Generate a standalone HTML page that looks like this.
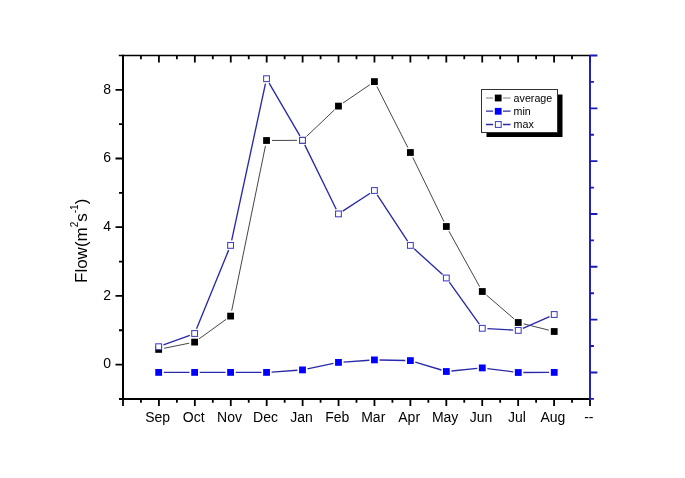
<!DOCTYPE html><html><head><meta charset="utf-8"><style>html,body{margin:0;padding:0;background:#fff;}svg{display:block;will-change:transform;}text{font-family:"Liberation Sans",sans-serif;}</style></head><body>
<svg width="685" height="478" viewBox="0 0 685 478">
<rect width="685" height="478" fill="#fff"/>
<path d="M119.00 398.90H123.0M115.50 364.60H123.0M119.00 330.25H123.0M115.50 295.90H123.0M119.00 261.55H123.0M115.50 227.20H123.0M119.00 192.85H123.0M115.50 158.50H123.0M119.00 124.15H123.0M115.50 89.80H123.0M123.00 398.9V405.90M140.96 398.9V402.70M158.92 398.9V405.90M176.88 398.9V402.70M194.85 398.9V405.90M212.81 398.9V402.70M230.77 398.9V405.90M248.73 398.9V402.70M266.69 398.9V405.90M284.65 398.9V402.70M302.62 398.9V405.90M320.58 398.9V402.70M338.54 398.9V405.90M356.50 398.9V402.70M374.46 398.9V405.90M392.42 398.9V402.70M410.38 398.9V405.90M428.35 398.9V402.70M446.31 398.9V405.90M464.27 398.9V402.70M482.23 398.9V405.90M500.19 398.9V402.70M518.15 398.9V405.90M536.12 398.9V402.70M554.08 398.9V405.90M572.04 398.9V402.70M590.00 398.9V405.90M123.00 55.5V62.50M140.96 55.5V59.30M158.92 55.5V62.50M176.88 55.5V59.30M194.85 55.5V62.50M212.81 55.5V59.30M230.77 55.5V62.50M248.73 55.5V59.30M266.69 55.5V62.50M284.65 55.5V59.30M302.62 55.5V62.50M320.58 55.5V59.30M338.54 55.5V62.50M356.50 55.5V59.30M374.46 55.5V62.50M392.42 55.5V59.30M410.38 55.5V62.50M428.35 55.5V59.30M446.31 55.5V62.50M464.27 55.5V59.30M482.23 55.5V62.50M500.19 55.5V59.30M518.15 55.5V62.50M536.12 55.5V59.30M554.08 55.5V62.50M572.04 55.5V59.30M590.00 55.5V62.50" stroke="#000" stroke-width="1.8" fill="none"/>
<path d="M123.0 54.75V399.79999999999995" stroke="#000" stroke-width="2" fill="none"/>
<path d="M119.0 398.9H590.0" stroke="#000" stroke-width="2" fill="none"/>
<path d="M118.8 55.5H590.0" stroke="#000" stroke-width="1.6" fill="none"/>
<path d="M590.0 54.7V399.7M590.0 55.50H597.40M590.0 81.92H593.90M590.0 108.33H597.40M590.0 134.75H593.90M590.0 161.16H597.40M590.0 187.58H593.90M590.0 213.99H597.40M590.0 240.41H593.90M590.0 266.82H597.40M590.0 293.24H593.90M590.0 319.65H597.40M590.0 346.07H593.90M590.0 372.48H597.40M590.0 398.90H593.90" stroke="#1a1ab8" stroke-width="1.9" fill="none"/>
<text x="111" y="368.30" font-size="14" text-anchor="end" fill="#000">0</text>
<text x="111" y="299.60" font-size="14" text-anchor="end" fill="#000">2</text>
<text x="111" y="230.90" font-size="14" text-anchor="end" fill="#000">4</text>
<text x="111" y="162.20" font-size="14" text-anchor="end" fill="#000">6</text>
<text x="111" y="93.50" font-size="14" text-anchor="end" fill="#000">8</text>
<text x="157.72" y="421.7" font-size="14" text-anchor="middle" fill="#000">Sep</text>
<text x="193.65" y="421.7" font-size="14" text-anchor="middle" fill="#000">Oct</text>
<text x="229.57" y="421.7" font-size="14" text-anchor="middle" fill="#000">Nov</text>
<text x="265.49" y="421.7" font-size="14" text-anchor="middle" fill="#000">Dec</text>
<text x="301.42" y="421.7" font-size="14" text-anchor="middle" fill="#000">Jan</text>
<text x="337.34" y="421.7" font-size="14" text-anchor="middle" fill="#000">Feb</text>
<text x="373.26" y="421.7" font-size="14" text-anchor="middle" fill="#000">Mar</text>
<text x="409.18" y="421.7" font-size="14" text-anchor="middle" fill="#000">Apr</text>
<text x="445.11" y="421.7" font-size="14" text-anchor="middle" fill="#000">May</text>
<text x="481.03" y="421.7" font-size="14" text-anchor="middle" fill="#000">Jun</text>
<text x="516.95" y="421.7" font-size="14" text-anchor="middle" fill="#000">Jul</text>
<text x="552.88" y="421.7" font-size="14" text-anchor="middle" fill="#000">Aug</text>
<text x="588.80" y="421.7" font-size="14" text-anchor="middle" fill="#000">--</text>
<text transform="translate(86.6,283) rotate(-90)" font-size="17" fill="#000">Flow(m<tspan font-size="10" dy="-8.2">2</tspan><tspan dy="8.2">s</tspan><tspan font-size="10" dy="-8.2">-1</tspan><tspan dy="8.2">)</tspan></text>
<path d="M164.05 348.31L189.23 343.19M199.08 338.88L226.12 319.32M231.68 310.71L265.44 145.89M272.04 140.47L297.00 140.33M306.49 136.51L334.47 109.89M343.01 103.00L369.87 84.70M376.91 86.51L407.89 147.59M412.78 157.45L443.94 221.55M449.00 231.31L479.64 286.69M486.47 295.09L514.09 318.91M523.60 323.84L548.88 330.16" stroke="#3c3c3c" stroke-width="0.95" fill="none"/>
<rect x="155.26" y="346.00" width="6.8" height="6.8" fill="#000"/><rect x="191.22" y="338.70" width="6.8" height="6.8" fill="#000"/><rect x="227.18" y="312.70" width="6.8" height="6.8" fill="#000"/><rect x="263.14" y="137.10" width="6.8" height="6.8" fill="#000"/><rect x="299.10" y="136.90" width="6.8" height="6.8" fill="#000"/><rect x="335.06" y="102.70" width="6.8" height="6.8" fill="#000"/><rect x="371.02" y="78.20" width="6.8" height="6.8" fill="#000"/><rect x="406.98" y="149.10" width="6.8" height="6.8" fill="#000"/><rect x="442.94" y="223.10" width="6.8" height="6.8" fill="#000"/><rect x="478.90" y="288.10" width="6.8" height="6.8" fill="#000"/><rect x="514.86" y="319.10" width="6.8" height="6.8" fill="#000"/><rect x="550.82" y="328.10" width="6.8" height="6.8" fill="#000"/>
<path d="M163.76 372.40L189.52 372.40M199.72 372.40L225.48 372.40M235.68 372.40L261.44 372.40M271.63 372.05L297.41 370.25M307.49 368.86L333.47 363.44M343.55 362.05L369.33 360.25M379.52 360.00L405.28 360.50M415.26 362.08L441.46 370.02M451.41 370.99L477.23 368.41M487.36 368.55L513.20 371.85M523.36 372.49L549.12 372.41" stroke="#2a2aa8" stroke-width="1.35" fill="none"/>
<rect x="155.26" y="369.00" width="6.8" height="6.8" fill="#0000ff"/><rect x="191.22" y="369.00" width="6.8" height="6.8" fill="#0000ff"/><rect x="227.18" y="369.00" width="6.8" height="6.8" fill="#0000ff"/><rect x="263.14" y="369.00" width="6.8" height="6.8" fill="#0000ff"/><rect x="299.10" y="366.50" width="6.8" height="6.8" fill="#0000ff"/><rect x="335.06" y="359.00" width="6.8" height="6.8" fill="#0000ff"/><rect x="371.02" y="356.50" width="6.8" height="6.8" fill="#0000ff"/><rect x="406.98" y="357.20" width="6.8" height="6.8" fill="#0000ff"/><rect x="442.94" y="368.10" width="6.8" height="6.8" fill="#0000ff"/><rect x="478.90" y="364.50" width="6.8" height="6.8" fill="#0000ff"/><rect x="514.86" y="369.10" width="6.8" height="6.8" fill="#0000ff"/><rect x="550.82" y="369.00" width="6.8" height="6.8" fill="#0000ff"/>
<path d="M163.45 344.94L189.83 335.26M196.55 328.78L228.65 250.12M231.66 240.41L265.46 83.69M269.11 83.10L299.93 135.90M304.74 144.88L336.22 209.32M342.73 211.12L370.15 193.28M377.21 194.77L407.59 241.13M414.16 248.83L442.56 274.57M449.31 282.15L479.33 324.15M487.39 328.60L513.17 330.10M522.92 328.34L549.56 316.56" stroke="#2a2aa8" stroke-width="1.35" fill="none"/>
<rect x="155.76" y="343.80" width="5.8" height="5.8" fill="#fff" stroke="#4040c0" stroke-width="1.05"/><rect x="191.72" y="330.60" width="5.8" height="5.8" fill="#fff" stroke="#4040c0" stroke-width="1.05"/><rect x="227.68" y="242.50" width="5.8" height="5.8" fill="#fff" stroke="#4040c0" stroke-width="1.05"/><rect x="263.64" y="75.80" width="5.8" height="5.8" fill="#fff" stroke="#4040c0" stroke-width="1.05"/><rect x="299.60" y="137.40" width="5.8" height="5.8" fill="#fff" stroke="#4040c0" stroke-width="1.05"/><rect x="335.56" y="211.00" width="5.8" height="5.8" fill="#fff" stroke="#4040c0" stroke-width="1.05"/><rect x="371.52" y="187.60" width="5.8" height="5.8" fill="#fff" stroke="#4040c0" stroke-width="1.05"/><rect x="407.48" y="242.50" width="5.8" height="5.8" fill="#fff" stroke="#4040c0" stroke-width="1.05"/><rect x="443.44" y="275.10" width="5.8" height="5.8" fill="#fff" stroke="#4040c0" stroke-width="1.05"/><rect x="479.40" y="325.40" width="5.8" height="5.8" fill="#fff" stroke="#4040c0" stroke-width="1.05"/><rect x="515.36" y="327.50" width="5.8" height="5.8" fill="#fff" stroke="#4040c0" stroke-width="1.05"/><rect x="551.32" y="311.60" width="5.8" height="5.8" fill="#fff" stroke="#4040c0" stroke-width="1.05"/>
<rect x="486.5" y="94.5" width="76" height="42.5" fill="#000"/>
<rect x="481.5" y="89.5" width="76" height="43" fill="#fff" stroke="#333" stroke-width="1"/>
<path d="M486 98H493M503 98H510.5" stroke="#aaa" stroke-width="1.3" fill="none"/><rect x="494.8" y="94.6" width="6.8" height="6.8" fill="#000"/>
<path d="M486 111.2H493M503 111.2H510.5" stroke="#2a2aa8" stroke-width="1.3" fill="none"/><rect x="494.8" y="107.9" width="6.8" height="6.8" fill="#0000ff"/>
<path d="M486 124.5H493M503 124.5H510.5" stroke="#2a2aa8" stroke-width="1.3" fill="none"/><rect x="495.4" y="121.6" width="5.8" height="5.8" fill="#fff" stroke="#4040c0" stroke-width="1.05"/>
<text x="513.6" y="101.5" font-size="10.7" fill="#000">average</text>
<text x="513.6" y="114.6" font-size="10.7" fill="#000">min</text>
<text x="513.6" y="127.7" font-size="10.7" fill="#000">max</text>
</svg></body></html>
